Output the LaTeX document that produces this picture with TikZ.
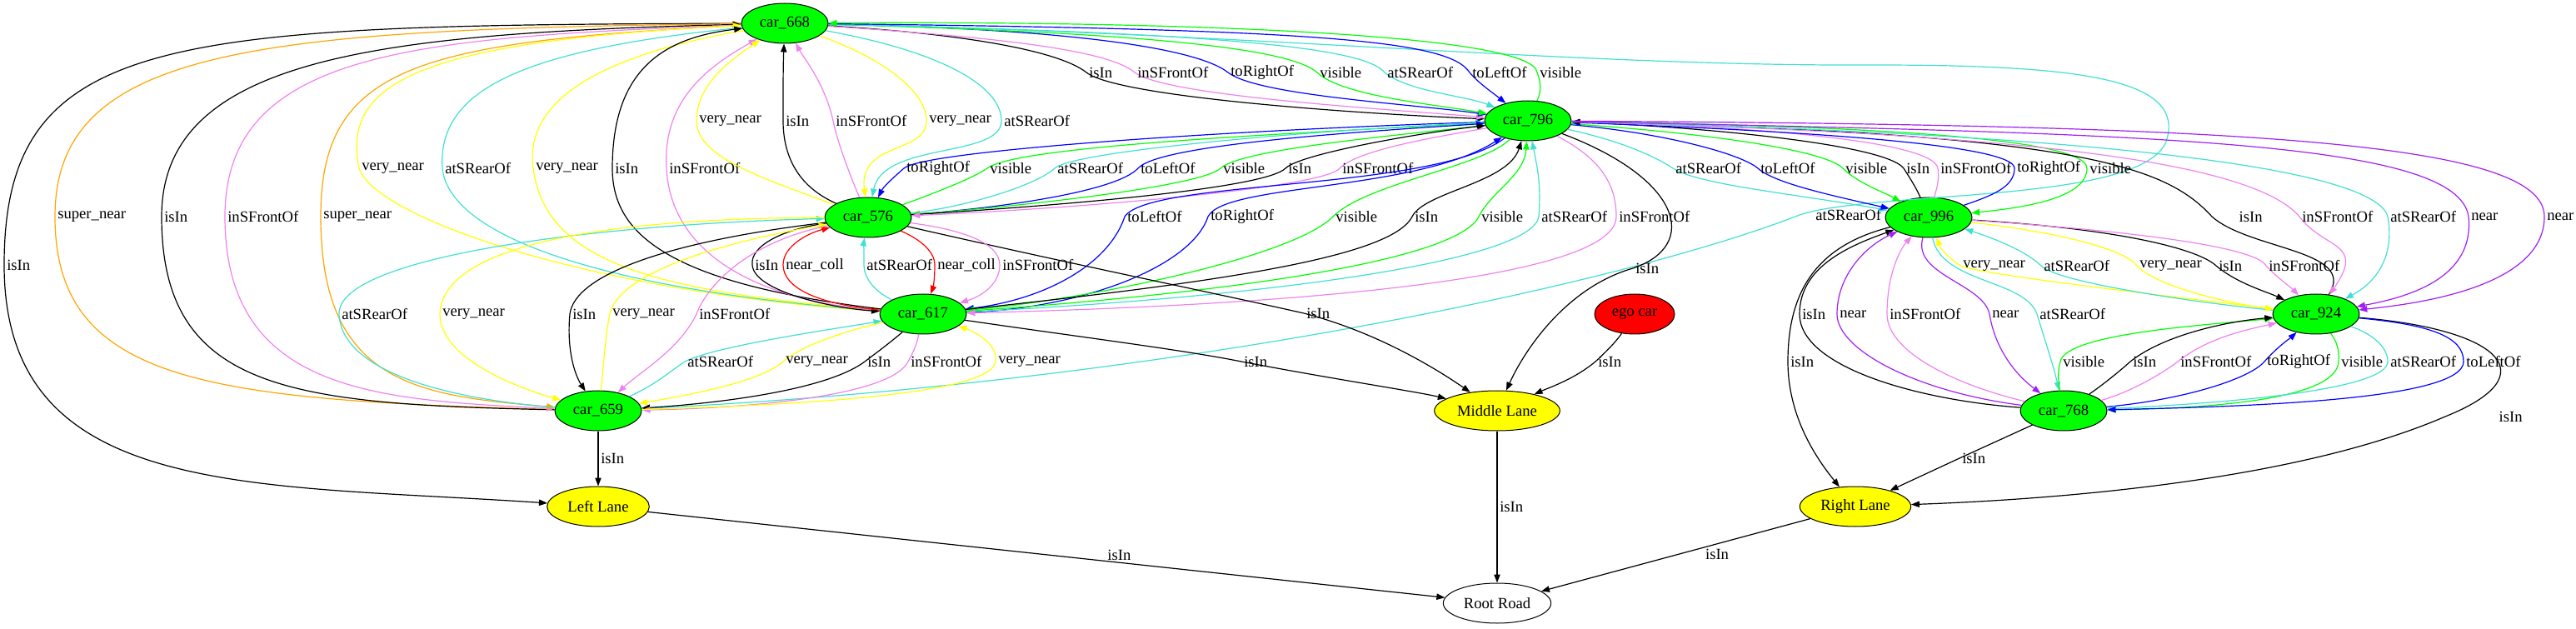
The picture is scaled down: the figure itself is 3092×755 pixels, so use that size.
\documentclass[tikz,border=0pt]{standalone}
\usepackage{fontspec}
\setmainfont{Liberation Serif}
\usepackage{tikz}
\usetikzlibrary{arrows.meta}
\usetikzlibrary{shapes.geometric}
\definecolor{gvviolet}{HTML}{EE82EE}
\definecolor{gvturq}{HTML}{40E0D0}
\definecolor{gvgreen}{HTML}{00FF00}
\definecolor{gvyellow}{HTML}{FFFF00}
\definecolor{gvorange}{HTML}{FFA500}
\definecolor{gvpurple}{HTML}{A020F0}
\definecolor{gvblue}{HTML}{0000FF}
\definecolor{gvred}{HTML}{FF0000}

\begin{document}
\begin{tikzpicture}[x=0.75pt,y=-0.75pt,
    every node/.style={font=\fontsize{14}{16}\selectfont},
    car/.style={ellipse,draw,line width=0.75pt,fill=gvgreen,minimum width=78pt,minimum height=36pt,inner sep=0pt},
    lane/.style={car,fill=gvyellow},
    lbl/.style={anchor=west,inner sep=1pt,xshift=1pt,text=black},
    rel/.style={line width=0.9pt,-{Triangle[length=7.5pt,width=5.5pt]}},
    isin/.style={rel,black},
    infront/.style={rel,gvviolet},
    atrear/.style={rel,gvturq},
    lateral/.style={rel,gvblue},
    seen/.style={rel,gvgreen},
    vnear/.style={rel,gvyellow},
    snear/.style={rel,gvorange},
    nearby/.style={rel,gvpurple},
    ncoll/.style={rel,gvred}]
        \useasboundingbox (0,0) rectangle (3092,755);

        \node[car] (c668) at (942,28) {car\_668};
        \node[car] (c796) at (1834,145) {car\_796};
        \node[car] (c576) at (1042,261) {car\_576};
        \node[car] (c617) at (1108,377) {car\_617};
        \node[car] (c659) at (718,493) {car\_659};
        \node[car] (c996) at (2315,261) {car\_996};
        \node[car] (c924) at (2780,377) {car\_924};
        \node[car] (c768) at (2477,493) {car\_768};
        \node[car, fill=gvred, minimum width=72pt] (ego) at (1962,377) {ego car};
        \node[lane, minimum width=92pt] (left) at (718,608) {Left Lane};
        \node[lane, minimum width=113pt] (middle) at (1797,493) {Middle Lane};
        \node[lane, minimum width=100pt] (right) at (2227,608) {Right Lane};
        \node[lane, fill=white, minimum width=97pt] (root) at (1797,724) {Root Road};

        \draw[isin] (c668) .. controls (200,30) and (5,40) .. (5,318) node[lbl]{isIn} .. controls (5,600) and (300,580) .. (left);
        \draw[snear] (c659) .. controls (250,480) and (66,460) .. (66,260) node[lbl]{super\_near} .. controls (66,60) and (300,35) .. (c668);
        \draw[isin] (c659) .. controls (350,485) and (194,470) .. (194,260) node[lbl]{isIn} .. controls (194,70) and (450,40) .. (c668);
        \draw[infront] (c668) .. controls (500,45) and (270,60) .. (270,260) node[lbl]{inSFrontOf} .. controls (270,470) and (450,480) .. (c659);
        \draw[snear] (c668) .. controls (500,50) and (385,80) .. (385,260) node[lbl]{super\_near} .. controls (385,460) and (500,475) .. (c659);
        \draw[atrear] (c659) .. controls (1400,460) and (1950,340) .. (2160,258) node[lbl,xshift=12pt]{atSRearOf} .. controls (2250,228) and (2570,245) .. (2600,170) .. controls (2625,95) and (2500,78) .. (2250,78) .. controls (1900,80) and (1500,40) .. (c668);

        \draw[vnear] (c617) .. controls (700,350) and (450,260) .. (431,202) node[lbl]{very\_near} .. controls (410,100) and (500,50) .. (c668);
        \draw[atrear] (c668) .. controls (620,60) and (525,110) .. (531,202) node[lbl]{atSRearOf} .. controls (540,290) and (750,350) .. (c617);
        \draw[vnear] (c668) .. controls (700,70) and (630,130) .. (640,202) node[lbl]{very\_near} .. controls (655,320) and (800,350) .. (c617);
        \draw[isin] (c617) .. controls (800,340) and (735,280) .. (735,202) node[lbl]{isIn} .. controls (735,80) and (800,45) .. (c668);
        \draw[infront] (c617) .. controls (900,360) and (805,300) .. (800,202) node[lbl]{inSFrontOf} .. controls (795,120) and (850,80) .. (c668);

        \draw[vnear] (c576) .. controls (920,215) and (836,190) .. (836,145) node[lbl]{very\_near} .. controls (836,100) and (880,70) .. (c668);
        \draw[isin] (c576) .. controls (960,225) and (940,190) .. (940,145) node[lbl]{isIn} .. controls (940,100) and (940,80) .. (c668);
        \draw[infront] (c576) .. controls (1020,210) and (1005,170) .. (1000,145) node[lbl]{inSFrontOf} .. controls (990,100) and (965,70) .. (c668);
        \draw[vnear] (c668) .. controls (1060,70) and (1112,110) .. (1112,145) node[lbl]{very\_near} .. controls (1112,185) and (1030,170) .. (c576);
        \draw[atrear] (c668) .. controls (1120,60) and (1202,100) .. (1202,145) node[lbl]{atSRearOf} .. controls (1202,190) and (1060,170) .. (c576);

        \draw[isin] (c668) .. controls (1150,40) and (1270,60) .. (1304,87) node[lbl]{isIn} .. controls (1340,115) and (1600,135) .. (c796);
        \draw[infront] (c668) .. controls (1200,45) and (1330,60) .. (1362,87) node[lbl]{inSFrontOf} .. controls (1400,115) and (1650,130) .. (c796);
        \draw[lateral] (c668) .. controls (1300,35) and (1440,60) .. (1474,87) node[lbl]{toRightOf} .. controls (1510,115) and (1700,125) .. (c796);
        \draw[seen] (c668) .. controls (1400,40) and (1550,60) .. (1581,87) node[lbl]{visible} .. controls (1610,115) and (1720,125) .. (c796);
        \draw[atrear] (c668) .. controls (1500,40) and (1640,60) .. (1662,87) node[lbl]{atSRearOf} .. controls (1690,110) and (1760,115) .. (c796);
        \draw[lateral] (c668) .. controls (1600,35) and (1740,50) .. (1764,87) node[lbl]{toLeftOf} .. controls (1775,100) and (1790,110) .. (c796);
        \draw[seen] (c796) .. controls (1850,110) and (1850,100) .. (1845,87) node[lbl]{visible} .. controls (1840,40) and (1400,25) .. (c668);

        \draw[lateral] (c796) .. controls (1500,155) and (1110,180) .. (1085,202) node[lbl]{toRightOf} .. controls (1070,215) and (1060,225) .. (c576);
        \draw[seen] (c576) .. controls (1140,225) and (1170,212) .. (1185,202) node[lbl]{visible} .. controls (1220,175) and (1550,160) .. (c796);
        \draw[atrear] (c576) .. controls (1150,250) and (1240,225) .. (1266,202) node[lbl]{atSRearOf} .. controls (1290,180) and (1600,155) .. (c796);
        \draw[lateral] (c576) .. controls (1200,250) and (1340,230) .. (1366,202) node[lbl]{toLeftOf} .. controls (1390,175) and (1600,160) .. (c796);
        \draw[seen] (c796) .. controls (1650,165) and (1490,180) .. (1465,202) node[lbl]{visible} .. controls (1440,225) and (1200,250) .. (c576);
        \draw[isin] (c576) .. controls (1300,245) and (1520,225) .. (1543,202) node[lbl]{isIn} .. controls (1560,185) and (1700,160) .. (c796);
        \draw[infront] (c796) .. controls (1720,165) and (1630,180) .. (1608,202) node[lbl]{inSFrontOf} .. controls (1590,225) and (1300,250) .. (c576);

        \draw[lateral] (c796) .. controls (1720,230) and (1380,215) .. (1350,260) node[lbl]{toLeftOf} .. controls (1330,320) and (1250,360) .. (c617);
        \draw[lateral] (c617) .. controls (1300,370) and (1430,320) .. (1450,260) node[lbl]{toRightOf} .. controls (1470,220) and (1700,230) .. (c796);
        \draw[seen] (c796) .. controls (1780,200) and (1640,220) .. (1600,260) node[lbl]{visible} .. controls (1550,310) and (1300,360) .. (c617);
        \draw[isin] (c617) .. controls (1450,340) and (1670,310) .. (1695,260) node[lbl]{isIn} .. controls (1710,230) and (1810,220) .. (c796);
        \draw[seen] (c617) .. controls (1500,350) and (1750,310) .. (1775,260) node[lbl]{visible} .. controls (1790,230) and (1830,210) .. (c796);
        \draw[atrear] (c617) .. controls (1550,355) and (1840,310) .. (1847,260) node[lbl]{atSRearOf} .. controls (1850,220) and (1845,200) .. (c796);
        \draw[infront] (c796) .. controls (1920,190) and (1940,220) .. (1940,260) node[lbl]{inSFrontOf} .. controls (1940,330) and (1600,365) .. (c617);

        \draw[isin] (c796) .. controls (2020,215) and (2040,295) .. (1960,322) node[lbl]{isIn} .. controls (1880,345) and (1830,420) .. (middle);
        \draw[isin] (c576) .. controls (1300,320) and (1450,350) .. (1565,376) node[lbl]{isIn} .. controls (1650,398) and (1720,440) .. (middle);
        \draw[isin] (c617) .. controls (1300,405) and (1420,420) .. (1490,434) node[lbl]{isIn} .. controls (1600,455) and (1700,470) .. (middle);
        \draw[isin] (ego) .. controls (1940,410) and (1925,425) .. (1915,434) node[lbl]{isIn} .. controls (1890,455) and (1860,465) .. (middle);

        \draw[isin] (c576) .. controls (940,275) and (900,295) .. (903,318) node[lbl]{isIn} .. controls (905,350) and (1000,370) .. (c617);
        \draw[ncoll] (c617) .. controls (980,365) and (940,345) .. (940,318) node[lbl]{near\_coll} .. controls (940,295) and (970,280) .. (c576);
        \draw[atrear] (c617) .. controls (1060,355) and (1037,340) .. (1037,318) node[lbl]{atSRearOf} .. controls (1037,300) and (1037,290) .. (c576);
        \draw[ncoll] (c576) .. controls (1100,285) and (1122,300) .. (1122,318) node[lbl]{near\_coll} .. controls (1122,335) and (1120,345) .. (c617);
        \draw[infront] (c576) .. controls (1150,275) and (1200,290) .. (1200,318) node[lbl]{inSFrontOf} .. controls (1200,340) and (1180,355) .. (c617);

        \draw[atrear] (c659) .. controls (550,480) and (410,450) .. (407,377) node[lbl]{atSRearOf} .. controls (405,310) and (700,270) .. (c576);
        \draw[vnear] (c576) .. controls (700,262) and (530,300) .. (528,377) node[lbl]{very\_near} .. controls (528,430) and (620,465) .. (c659);
        \draw[isin] (c576) .. controls (800,290) and (690,330) .. (684,377) node[lbl]{isIn} .. controls (680,420) and (690,450) .. (c659);
        \draw[vnear] (c659) .. controls (725,440) and (725,410) .. (732,377) node[lbl]{very\_near} .. controls (745,320) and (900,285) .. (c576);
        \draw[infront] (c576) .. controls (900,290) and (850,340) .. (836,377) node[lbl]{inSFrontOf} .. controls (815,420) and (770,445) .. (c659);

        \draw[atrear] (c659) .. controls (790,460) and (805,445) .. (822,434) node[lbl]{atSRearOf} .. controls (860,415) and (1000,395) .. (c617);
        \draw[vnear] (c617) .. controls (1000,400) and (955,420) .. (940,434) node[lbl]{very\_near} .. controls (910,460) and (820,475) .. (c659);
        \draw[isin] (c617) .. controls (1070,410) and (1050,425) .. (1038,434) node[lbl]{isIn} .. controls (990,470) and (850,485) .. (c659);
        \draw[infront] (c617) .. controls (1100,415) and (1095,425) .. (1090,434) node[lbl]{inSFrontOf} .. controls (1070,475) and (900,490) .. (c659);
        \draw[vnear] (c659) .. controls (1000,485) and (1190,470) .. (1195,434) node[lbl]{very\_near} .. controls (1198,415) and (1175,400) .. (c617);

        \draw[isin] (c659) -- (718,550) node[lbl]{isIn} -- (left);
        \draw[isin] (left) -- node[lbl,pos=0.59,anchor=south]{isIn} (root);
        \draw[isin] (middle) -- node[lbl]{isIn} (root);
        \draw[isin] (right) -- node[lbl,pos=0.4,yshift=-6pt]{isIn} (root);
        \draw[isin] (c768) -- (2352,550) node[lbl]{isIn} -- (right);
        \draw[isin] (c924) .. controls (3000,395) and (3060,450) .. (2935,500) node[lbl,xshift=46pt]{isIn} .. controls (2750,580) and (2450,600) .. (right);
        \draw[isin] (c996) .. controls (2180,295) and (2146,350) .. (2146,434) node[lbl]{isIn} .. controls (2146,500) and (2180,550) .. (right);

        \draw[isin] (c768) .. controls (2300,480) and (2160,440) .. (2160,377) node[lbl]{isIn} .. controls (2160,320) and (2220,295) .. (c996);
        \draw[nearby] (c768) .. controls (2300,470) and (2205,420) .. (2205,377) node[lbl]{near} .. controls (2205,330) and (2240,295) .. (c996);
        \draw[infront] (c768) .. controls (2340,460) and (2265,420) .. (2265,377) node[lbl]{inSFrontOf} .. controls (2265,330) and (2280,300) .. (c996);
        \draw[nearby] (c996) .. controls (2295,330) and (2380,340) .. (2388,377) node[lbl]{near} .. controls (2395,420) and (2420,450) .. (c768);
        \draw[atrear] (c996) .. controls (2330,340) and (2430,335) .. (2445,377) node[lbl]{atSRearOf} .. controls (2455,410) and (2465,440) .. (c768);

        \draw[vnear] (c924) .. controls (2600,355) and (2380,330) .. (2353,319) node[lbl]{very\_near} .. controls (2340,310) and (2330,300) .. (c996);
        \draw[atrear] (c924) .. controls (2650,365) and (2470,340) .. (2450,319) node[lbl]{atSRearOf} .. controls (2430,300) and (2390,285) .. (c996);
        \draw[vnear] (c996) .. controls (2480,280) and (2550,300) .. (2565,319) node[lbl]{very\_near} .. controls (2590,345) and (2680,365) .. (c924);
        \draw[isin] (c996) .. controls (2550,275) and (2640,300) .. (2660,319) node[lbl]{isIn} .. controls (2685,340) and (2720,350) .. (c924);
        \draw[infront] (c996) .. controls (2600,280) and (2710,300) .. (2720,319) node[lbl]{inSFrontOf} .. controls (2735,335) and (2750,345) .. (c924);

        \draw[seen] (c768) .. controls (2470,455) and (2470,445) .. (2473,434) node[lbl]{visible} .. controls (2480,400) and (2650,390) .. (c924);
        \draw[isin] (c768) .. controls (2520,465) and (2545,445) .. (2557,434) node[lbl]{isIn} .. controls (2600,400) and (2680,385) .. (c924);
        \draw[infront] (c768) .. controls (2560,470) and (2600,445) .. (2614,434) node[lbl]{inSFrontOf} .. controls (2650,405) and (2700,395) .. (c924);
        \draw[lateral] (c768) .. controls (2620,480) and (2700,455) .. (2718,434) node[lbl]{toRightOf} .. controls (2735,415) and (2750,405) .. (c924);
        \draw[seen] (c924) .. controls (2805,410) and (2808,420) .. (2807,434) node[lbl]{visible} .. controls (2805,480) and (2650,490) .. (c768);
        \draw[atrear] (c924) .. controls (2845,400) and (2866,415) .. (2866,434) node[lbl]{atSRearOf} .. controls (2866,470) and (2650,485) .. (c768);
        \draw[lateral] (c924) .. controls (2920,390) and (2957,405) .. (2957,434) node[lbl]{toLeftOf} .. controls (2957,480) and (2700,488) .. (c768);

        \draw[atrear] (c796) .. controls (1950,170) and (1990,190) .. (2008,202) node[lbl]{atSRearOf} .. controls (2040,222) and (2150,232) .. (c996);
        \draw[lateral] (c796) .. controls (2000,160) and (2090,185) .. (2110,202) node[lbl]{toLeftOf} .. controls (2130,220) and (2200,235) .. (c996);
        \draw[seen] (c796) .. controls (2050,160) and (2190,180) .. (2212,202) node[lbl]{visible} .. controls (2230,220) and (2260,230) .. (c996);
        \draw[isin] (c996) .. controls (2300,225) and (2290,210) .. (2285,202) node[lbl]{isIn} .. controls (2260,170) and (2000,150) .. (c796);
        \draw[infront] (c996) .. controls (2325,225) and (2328,215) .. (2326,202) node[lbl]{inSFrontOf} .. controls (2320,165) and (2050,150) .. (c796);
        \draw[lateral] (c996) .. controls (2390,235) and (2418,225) .. (2418,202) node[lbl]{toRightOf} .. controls (2418,170) and (2100,155) .. (c796);
        \draw[seen] (c796) .. controls (2150,150) and (2505,160) .. (2505,202) node[lbl]{visible} .. controls (2505,240) and (2420,250) .. (c996);

        \draw[isin] (c924) .. controls (2830,300) and (2700,300) .. (2655,260) node[lbl,xshift=22pt]{isIn} .. controls (2600,200) and (2500,160) .. (c796);
        \draw[infront] (c796) .. controls (2400,160) and (2700,190) .. (2760,260) node[lbl]{inSFrontOf} .. controls (2790,300) and (2840,290) .. (c924);
        \draw[atrear] (c796) .. controls (2500,160) and (2850,200) .. (2866,260) node[lbl]{atSRearOf} .. controls (2875,310) and (2850,340) .. (c924);
        \draw[nearby] (c796) .. controls (2600,160) and (2950,170) .. (2963,260) node[lbl]{near} .. controls (2970,330) and (2900,355) .. (c924);
        \draw[nearby] (c796) .. controls (2700,150) and (3054,170) .. (3054,260) node[lbl]{near} .. controls (3054,330) and (2950,360) .. (c924);
      \end{tikzpicture}
\end{document}
